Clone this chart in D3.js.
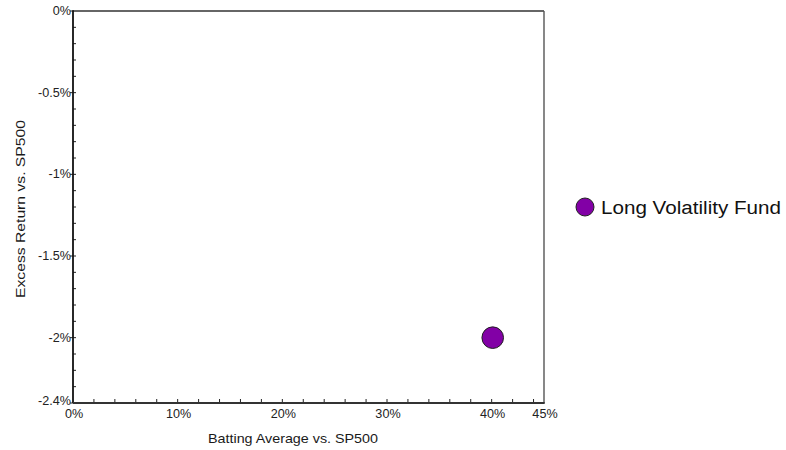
<!DOCTYPE html>
<html>
<head>
<meta charset="utf-8">
<script src="https://cdn.jsdelivr.net/npm/d3@7"></script>
<style>
  html, body { margin: 0; padding: 0; background: #fff; }
  svg { display: block; font-family: "Liberation Sans", Arial, sans-serif; }
</style>
</head>
<body>
<svg id="chart" width="786" height="450"></svg>
<script>
// ---- data ----
const seriesNames = ["Long Volatility Fund"];
const battingAverage = [40.1];     // % (x)
const excessReturn = [-2.0];       // % (y)
const seriesColors = ["#8200a6"];
const xTickValues = [0, 10, 20, 30, 40, 45];
const xTickLabels = ["0%", "10%", "20%", "30%", "40%", "45%"];
const yTickValues = [0, -0.5, -1, -1.5, -2, -2.4];
const yTickLabels = ["0%", "-0.5%", "-1%", "-1.5%", "-2%", "-2.4%"];
const xTitle = "Batting Average vs. SP500";
const yTitle = "Excess Return vs. SP500";

// ---- layout ----
const svg = d3.select("#chart");
const L = 73, R = 544, T = 11, B = 403;
const x = d3.scaleLinear().domain([0, 45]).range([L, R]);
const y = d3.scaleLinear().domain([-2.4, 0]).range([B, T]);
const stretch = 1.05;

function widen(sel, factor) {
  sel.each(function() {
    const w = this.getComputedTextLength();
    d3.select(this).attr("textLength", w * factor).attr("lengthAdjust", "spacingAndGlyphs");
  });
}

// frame top/right
svg.append("line").attr("x1", L).attr("x2", R).attr("y1", T).attr("y2", T)
  .attr("stroke", "#333").attr("stroke-width", 1.6);
svg.append("line").attr("x1", R).attr("x2", R).attr("y1", T).attr("y2", B)
  .attr("stroke", "#555").attr("stroke-width", 1.4);

// minor ticks x (every 2%) inward
const xMinor = d3.range(0, 45, 2).filter(v => v > 0);
svg.append("g").selectAll("line").data(xMinor).join("line")
  .attr("x1", d => x(d)).attr("x2", d => x(d))
  .attr("y1", B).attr("y2", B - 4)
  .attr("stroke", "#222").attr("stroke-width", 1);

// minor ticks y (every 0.1%) inward
const yMinor = d3.range(1, 24).map(i => -i / 10);
svg.append("g").selectAll("line").data(yMinor).join("line")
  .attr("x1", L).attr("x2", L + 3)
  .attr("y1", d => y(d)).attr("y2", d => y(d))
  .attr("stroke", "#222").attr("stroke-width", 1);

// y major ticks outward
svg.append("g").selectAll("line").data(yTickValues).join("line")
  .attr("x1", L - 3).attr("x2", L)
  .attr("y1", d => y(d)).attr("y2", d => y(d))
  .attr("stroke", "#222").attr("stroke-width", 1);

// axes lines
svg.append("line").attr("x1", L).attr("x2", L).attr("y1", T - 0.8).attr("y2", B)
  .attr("stroke", "#111").attr("stroke-width", 1.8);
svg.append("line").attr("x1", L).attr("x2", R + 0.7).attr("y1", B).attr("y2", B)
  .attr("stroke", "#333").attr("stroke-width", 1.8);

// x tick labels
const xl = svg.append("g").selectAll("text").data(xTickValues).join("text")
  .attr("x", d => x(d) + 1).attr("y", B + 15)
  .attr("text-anchor", "middle")
  .attr("font-size", 12).attr("fill", "#222")
  .text((d, i) => xTickLabels[i]);
widen(xl, stretch);

// y tick labels
const yl = svg.append("g").selectAll("text").data(yTickValues).join("text")
  .attr("x", L - 2).attr("y", d => y(d) + 4 - (d === -2.4 ? 2 : 0))
  .attr("text-anchor", "end")
  .attr("font-size", 12).attr("fill", "#222")
  .text((d, i) => yTickLabels[i]);
widen(yl, stretch);

// axis titles
svg.append("text").attr("x", 293).attr("y", 443)
  .attr("text-anchor", "middle").attr("font-size", 13.5).attr("fill", "#1a1a1a")
  .attr("textLength", 170).attr("lengthAdjust", "spacingAndGlyphs")
  .text(xTitle);
svg.append("text")
  .attr("transform", "translate(25,209) rotate(-90)")
  .attr("text-anchor", "middle").attr("font-size", 13.5).attr("fill", "#1a1a1a")
  .attr("textLength", 178).attr("lengthAdjust", "spacingAndGlyphs")
  .text(yTitle);

// points
svg.append("g").selectAll("circle").data(battingAverage).join("circle")
  .attr("cx", d => x(d)).attr("cy", (d, i) => y(excessReturn[i]))
  .attr("r", 10.8)
  .attr("fill", (d, i) => seriesColors[i])
  .attr("stroke", "#222").attr("stroke-width", 1);

// legend
const lg = svg.append("g").selectAll("g").data(seriesNames).join("g")
  .attr("transform", (d, i) => `translate(585,${207 + i * 24})`);
lg.append("circle").attr("r", 9)
  .attr("fill", (d, i) => seriesColors[i])
  .attr("stroke", "#222").attr("stroke-width", 1);
lg.append("text").attr("x", 16).attr("y", 6.5)
  .attr("font-size", 18).attr("fill", "#111")
  .attr("textLength", 180).attr("lengthAdjust", "spacingAndGlyphs")
  .text(d => d);
</script>
</body>
</html>
